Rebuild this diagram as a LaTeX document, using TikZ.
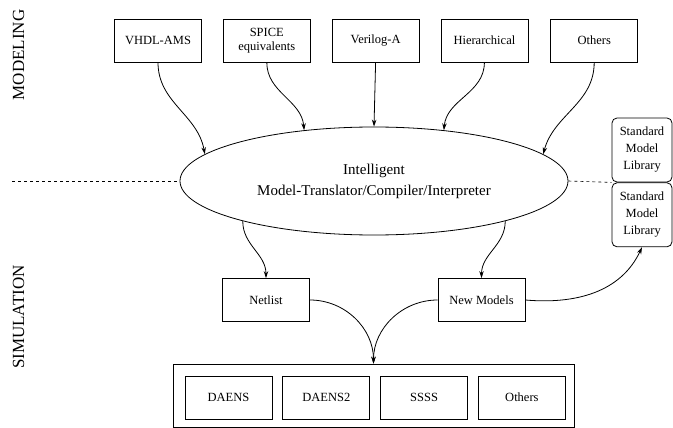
\documentclass[tikz,border=0pt]{standalone}
\usepackage{fontspec}
\setmainfont{Liberation Serif}
\usetikzlibrary{arrows.meta, positioning, shapes.geometric}

\begin{document}
\begin{tikzpicture}[
    x=1pt, y=1pt,
    >={Stealth[length=7pt, width=4.5pt]},
    line width=0.8pt,
    every node/.style={inner sep=0pt},
    mbox/.style={
        draw, minimum width=87pt, minimum height=43pt,
        font=\fontsize{12.5}{14}\selectfont, align=center
    },
    libbox/.style={
        draw, rounded corners=5pt, minimum width=60pt, minimum height=64pt,
        font=\fontsize{12.5}{17}\selectfont, align=center
    },
    sidelabel/.style={rotate=90, font=\fontsize{17}{19}\selectfont},
    arr/.style={->},
    sep/.style={dashed, line width=0.6pt},
]
\useasboundingbox (0,0) rectangle (673,-428);

% ============ side labels ============
\node[sidelabel] (lmod) at (18.5,-55) {MODELING};
\node[sidelabel] (lsim) at (18.5,-317) {SIMULATION};

% ============ model sources ============
\node[mbox] (vhdl) at (158,-40.5) {VHDL-AMS};
\node[mbox, right=21pt of vhdl] (spice) {SPICE\\equivalents};
\node[mbox, right=21pt of spice] (veri) {Verilog-A};
\node[mbox, right=21pt of veri] (hier) {Hierarchical};
\node[mbox, right=22pt of hier] (othm) {Others};

% ============ translator ============
\node[draw, ellipse, minimum width=388pt, minimum height=108pt,
      font=\fontsize{15}{21}\selectfont, align=center] (comp) at (374,-181)
      {Intelligent\\Model-Translator/Compiler/Interpreter};

% Library boxes
\node[libbox] (lib1) at (642,-150) {Standard\\Model\\Library};
\node[libbox, below=0pt of lib1] (lib2) {Standard\\Model\\Library};

% Modeling / simulation border
\coordinate (sepl) at (12,-181);
\draw[sep] (sepl) -- (comp.west);
\draw[sep] (comp.east) -- (lib1.south west);

% Arrows into translator
\draw[arr] (vhdl.south) to[out=-90, in=100] (comp.171);
\draw[arr] (spice.south) to[out=-90, in=95] (comp.144);
\draw[arr] (veri.south) -- (comp.north);
\draw[arr] (hier.south) to[out=-90, in=85] (comp.36);
\draw[arr] (othm.south) to[out=-90, in=75] (comp.9);

% ============ translator outputs ============
\node[mbox] (net) at (266,-300) {Netlist};
\node[mbox] (newm) at (481.5,-300) {New Models};

\draw[arr] (comp.197) to[out=-90, in=90] (net.north);
\draw[arr] (comp.-17) to[out=-90, in=90] (newm.north);
\draw[arr] (newm.east) to[out=-5, in=-115] (lib2.south);

% ============ simulators ============
\node[mbox] (daens) at (228.5,-397.5) {DAENS};
\node[mbox, right=10pt of daens] (daens2) {DAENS2};
\node[mbox, right=10pt of daens2] (ssss) {SSSS};
\node[mbox, right=10pt of ssss] (oths) {Others};
\node[draw, minimum width=401pt, minimum height=63pt] (sim) at (373.5,-395.5) {};

\draw[arr] (net.east) to[out=0, in=90] (sim.north);
\draw[arr] (newm.west) to[out=180, in=90] (sim.north);

\end{tikzpicture}
\end{document}
